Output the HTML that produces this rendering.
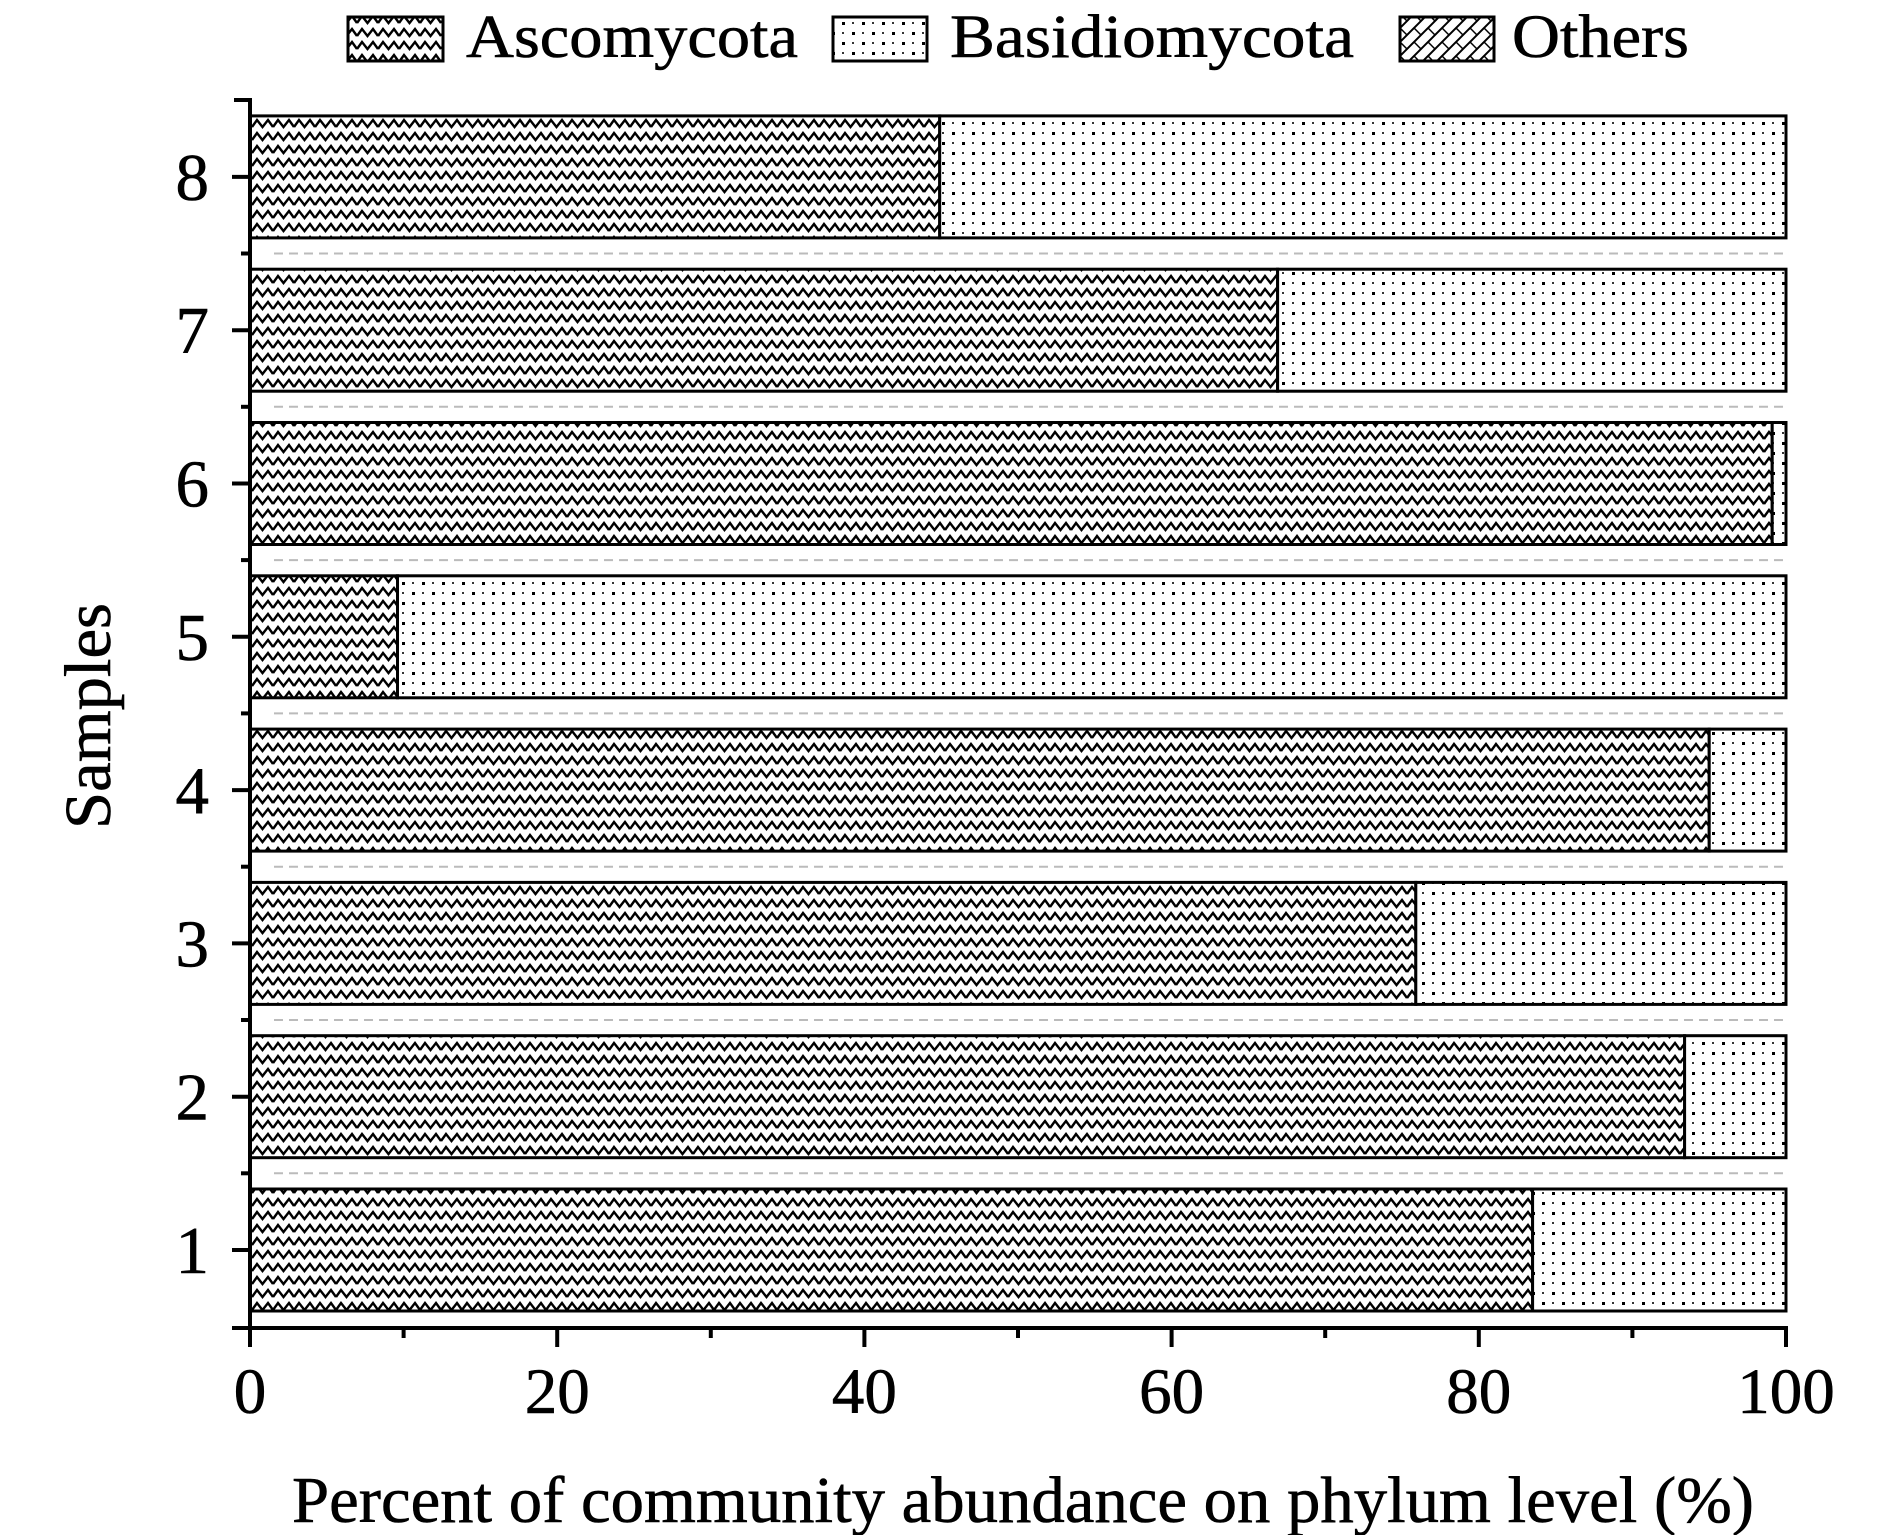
<!DOCTYPE html>
<html><head><meta charset="utf-8"><style>html,body{margin:0;padding:0;background:#fff}svg{display:block}</style></head>
<body>
<svg width="1890" height="1535" viewBox="0 0 1890 1535" xmlns="http://www.w3.org/2000/svg" font-family="Liberation Serif, serif">
<defs>
<pattern id="asc" patternUnits="userSpaceOnUse" width="21" height="13">
<rect width="21" height="13" fill="#fff"/>
<polyline points="0,10 5,3 10.5,10 16,3 21,10" fill="none" stroke="#000" stroke-width="2.4"/>
</pattern>
<pattern id="bas" patternUnits="userSpaceOnUse" width="20" height="20">
<rect width="20" height="20" fill="#fff"/>
<rect x="2" y="2" width="3" height="3" fill="#000"/>
<rect x="12" y="12" width="3" height="3" fill="#000"/>
<rect x="12" y="2" width="2" height="2" fill="#333"/>
<rect x="2" y="12" width="2" height="2" fill="#333"/>
</pattern>
<pattern id="oth" patternUnits="userSpaceOnUse" width="14" height="14">
<rect width="14" height="14" fill="#fff"/>
<path d="M0,14 L14,0 M-2,2 L2,-2 M12,16 L16,12" stroke="#000" stroke-width="2"/>
<path d="M0,0 L7,7" stroke="#000" stroke-width="1.5"/>
</pattern>
</defs>

<!-- legend -->
<rect x="348" y="17" width="95" height="44" fill="url(#asc)" stroke="#000" stroke-width="3"/>
<text x="466" y="57" font-size="61" stroke="#000" stroke-width="0.6" textLength="332" lengthAdjust="spacingAndGlyphs">Ascomycota</text>
<rect x="833" y="17" width="94" height="44" fill="url(#bas)" stroke="#000" stroke-width="3"/>
<text x="950" y="57" font-size="61" stroke="#000" stroke-width="0.6" textLength="404" lengthAdjust="spacingAndGlyphs">Basidiomycota</text>
<rect x="1400" y="17" width="94" height="44" fill="url(#oth)" stroke="#000" stroke-width="3"/>
<text x="1512" y="57" font-size="61" stroke="#000" stroke-width="0.6" textLength="177" lengthAdjust="spacingAndGlyphs">Others</text>

<!-- dashed separators -->
<g stroke="#bbb" stroke-width="2" stroke-dasharray="9,6">
<line x1="274" x2="1785" y1="1173.3" y2="1173.3"/>
<line x1="274" x2="1785" y1="1020" y2="1020"/>
<line x1="274" x2="1785" y1="866.7" y2="866.7"/>
<line x1="274" x2="1785" y1="713.4" y2="713.4"/>
<line x1="274" x2="1785" y1="560.1" y2="560.1"/>
<line x1="274" x2="1785" y1="406.8" y2="406.8"/>
<line x1="274" x2="1785" y1="253.5" y2="253.5"/>
</g>

<g stroke="#000" stroke-width="3">
<rect x="250" y="1189" width="1282.6" height="122" fill="url(#asc)"/>
<rect x="1532.6" y="1189" width="253.4" height="122" fill="url(#bas)"/>
<rect x="250" y="1035.7" width="1434.6" height="122" fill="url(#asc)"/>
<rect x="1684.6" y="1035.7" width="101.4" height="122" fill="url(#bas)"/>
<rect x="250" y="882.4" width="1165.8" height="122" fill="url(#asc)"/>
<rect x="1415.8" y="882.4" width="370.2" height="122" fill="url(#bas)"/>
<rect x="250" y="729.1" width="1459.2" height="122" fill="url(#asc)"/>
<rect x="1709.2" y="729.1" width="76.8" height="122" fill="url(#bas)"/>
<rect x="250" y="575.8" width="147.5" height="122" fill="url(#asc)"/>
<rect x="397.5" y="575.8" width="1388.5" height="122" fill="url(#bas)"/>
<rect x="250" y="422.5" width="1522.2" height="122" fill="url(#asc)"/>
<rect x="1772.2" y="422.5" width="13.8" height="122" fill="url(#bas)"/>
<rect x="250" y="269.2" width="1027.6" height="122" fill="url(#asc)"/>
<rect x="1277.6" y="269.2" width="508.4" height="122" fill="url(#bas)"/>
<rect x="250" y="115.9" width="689.7" height="122" fill="url(#asc)"/>
<rect x="939.7" y="115.9" width="846.3" height="122" fill="url(#bas)"/>
</g>

<g stroke="#000" stroke-width="4" fill="none">
<line x1="250" y1="98" x2="250" y2="1330"/>
<line x1="232" y1="1328" x2="1788" y2="1328"/>
<line x1="232" x2="250" y1="1250" y2="1250"/>
<line x1="232" x2="250" y1="1096.7" y2="1096.7"/>
<line x1="232" x2="250" y1="943.4" y2="943.4"/>
<line x1="232" x2="250" y1="790.1" y2="790.1"/>
<line x1="232" x2="250" y1="636.8" y2="636.8"/>
<line x1="232" x2="250" y1="483.5" y2="483.5"/>
<line x1="232" x2="250" y1="330.2" y2="330.2"/>
<line x1="232" x2="250" y1="176.9" y2="176.9"/>
<line x1="241" x2="250" y1="1173.3" y2="1173.3"/>
<line x1="241" x2="250" y1="1020" y2="1020"/>
<line x1="241" x2="250" y1="866.7" y2="866.7"/>
<line x1="241" x2="250" y1="713.4" y2="713.4"/>
<line x1="241" x2="250" y1="560.1" y2="560.1"/>
<line x1="241" x2="250" y1="406.8" y2="406.8"/>
<line x1="241" x2="250" y1="253.5" y2="253.5"/>
<line x1="234" x2="250" y1="100" y2="100"/>
<line x1="250" x2="250" y1="1328" y2="1347"/>
<line x1="557.2" x2="557.2" y1="1328" y2="1347"/>
<line x1="864.4" x2="864.4" y1="1328" y2="1347"/>
<line x1="1171.6" x2="1171.6" y1="1328" y2="1347"/>
<line x1="1478.8" x2="1478.8" y1="1328" y2="1347"/>
<line x1="1786" x2="1786" y1="1328" y2="1347"/>
<line x1="403.6" x2="403.6" y1="1328" y2="1338"/>
<line x1="710.8" x2="710.8" y1="1328" y2="1338"/>
<line x1="1018" x2="1018" y1="1328" y2="1338"/>
<line x1="1325.2" x2="1325.2" y1="1328" y2="1338"/>
<line x1="1632.4" x2="1632.4" y1="1328" y2="1338"/>
</g>

<g font-size="65" text-anchor="middle" stroke="#000" stroke-width="0.6">
<text x="250" y="1413">0</text>
<text x="557.2" y="1413">20</text>
<text x="864.4" y="1413">40</text>
<text x="1171.6" y="1413">60</text>
<text x="1478.8" y="1413">80</text>
<text x="1786" y="1413">100</text>
</g>
<g font-size="67" text-anchor="end" stroke="#000" stroke-width="0.6">
<text x="209" y="1273">1</text>
<text x="209" y="1119.7">2</text>
<text x="209" y="966.4">3</text>
<text x="209" y="813.1">4</text>
<text x="209" y="659.8">5</text>
<text x="209" y="506.5">6</text>
<text x="209" y="353.2">7</text>
<text x="209" y="199.9">8</text>
</g>

<text x="292" y="1522" font-size="66" stroke="#000" stroke-width="0.6" textLength="1462" lengthAdjust="spacingAndGlyphs">Percent of community abundance on phylum level (%)</text>
<text transform="translate(110,716) rotate(-90)" font-size="66" stroke="#000" stroke-width="0.6" text-anchor="middle" textLength="226" lengthAdjust="spacingAndGlyphs">Samples</text>
</svg>
</body></html>
